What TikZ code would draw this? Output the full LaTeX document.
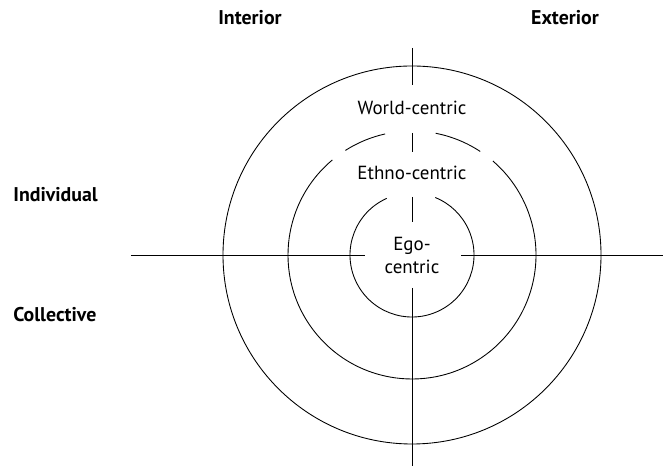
\documentclass[tikz,border=0pt]{standalone}
\usepackage{fontspec}
\setmainfont{PT Sans}
\usepackage{tikz}
\usetikzlibrary{positioning}

\begin{document}
\begin{tikzpicture}[
        ring/.style={draw, line width=0.5pt},
        axis/.style={draw, line width=0.5pt},
        zone/.style={font=\fontsize{10.8}{13.1}\selectfont, align=center, inner sep=0pt},
        heading/.style={font=\fontsize{11.3}{13}\selectfont\bfseries, inner sep=0pt}
    ]
        \useasboundingbox (-8.24,-4.38) rectangle (5.08,5.10);
        \coordinate (c) at (0,0);

        % Circles (outer one closed, the others broken where the text sits)
        \draw [ring] (c) circle (3.78);
        \draw [ring] (c) ++(130:2.48) arc (130:409.3:2.48);
        \draw [ring] (c) ++(56.6:2.48) arc (56.6:79:2.48);
        \draw [ring] (c) ++(102.5:2.48) arc (102.5:122.5:2.48);
        \draw [ring] (c) ++(114:1.24) arc (114:428:1.24);

        % Nodes
        \node [zone] (world) at (0,2.94) {World-centric};
        \node [zone, below=1.30cm of world.center, anchor=center] (ethno) {Ethno-centric};
        \node [zone] (ego) at (0,0) {Ego-\\centric};

        \node [heading] (interior) at (-3.24,4.74) {Interior};
        \node [heading] (exterior) at (3.06,4.74) {Exterior};
        \node [heading, anchor=west] (individual) at (-7.98,1.2) {Individual};
        \node [heading, anchor=west] (collective) at (-7.98,-1.2) {Collective};

        % Axes, split round the labels
        \coordinate (top) at (0,4.14);
        \coordinate (bottom) at (0,-4.22);
        \coordinate (left) at (-5.62,0);
        \coordinate (right) at (5.02,0);
        \path [axis] (top) -- (0,3.40);
        \path [axis] (0,2.44) -- (0,2.06);
        \path [axis] (0,1.16) -- (0,0.66);
        \path [axis] (0,-0.66) -- (bottom);
        \path [axis] (left) -- (-0.94,0);
        \path [axis] (0.98,0) -- (right);
    \end{tikzpicture}
\end{document}
